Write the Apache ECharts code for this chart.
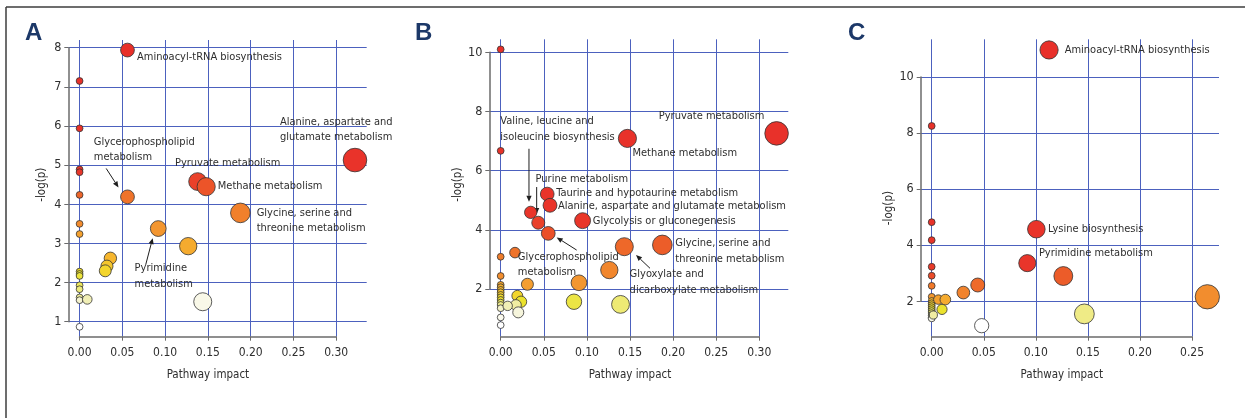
<!DOCTYPE html>
<html>
<head>
<meta charset="utf-8">
<title>Pathway impact</title>
<script src="https://cdn.jsdelivr.net/npm/echarts@6/dist/echarts.min.js"></script>
<style>
  html, body { margin: 0; padding: 0; background: #ffffff; }
  #chart { width: 1245px; height: 418px; }
</style>
</head>
<body>
<div id="chart"></div>
<script>
// ---------- Panel A ----------
const impactA = [0.056, 0.000, 0.000, 0.000, 0.000, 0.000, 0.056, 0.138, 0.148, 0.322,
                 0.188, 0.092, 0.127, 0.144, 0.036, 0.032, 0.030, 0.000, 0.000, 0.000,
                 0.000, 0.000, 0.000, 0.000, 0.000, 0.000, 0.009, 0.000];
const logpA   = [7.94, 7.15, 5.94, 4.89, 4.82, 4.24, 4.19, 4.58, 4.45, 5.13,
                 3.78, 3.38, 2.93, 1.51, 2.62, 2.42, 2.30, 3.50, 3.24, 2.28,
                 2.22, 2.17, 1.93, 1.83, 1.62, 1.55, 1.57, 0.87];
const labelsA = ['Aminoacyl-tRNA biosynthesis', '', '', '', '', '',
                 'Glycerophospholipid\nmetabolism', 'Pyruvate metabolism', 'Methane metabolism',
                 'Alanine, aspartate and\nglutamate metabolism', 'Glycine, serine and\nthreonine metabolism',
                 'Pyrimidine\nmetabolism', '', '', '', '', '', '', '', '', '', '', '', '', '', '', '', ''];
const xTicksA = [0.00, 0.05, 0.10, 0.15, 0.20, 0.25, 0.30];
const yTicksA = [1, 2, 3, 4, 5, 6, 7, 8];

// ---------- Panel B ----------
const impactB = [0.000, 0.000, 0.147, 0.320, 0.0436, 0.0348, 0.054, 0.0572, 0.095, 0.0552,
                 0.1434, 0.1875, 0.126, 0.0908, 0.031, 0.0166,
                 0.000, 0.000, 0.000, 0.000, 0.000, 0.000, 0.000, 0.000, 0.000, 0.000,
                 0.000, 0.000, 0.000, 0.000,
                 0.0193, 0.0236, 0.0177, 0.0081, 0.0204, 0.085, 0.139];
const logpB   = [10.10, 6.67, 7.09, 7.26, 4.24, 4.59, 5.21, 4.83, 4.31, 3.88,
                 3.43, 3.49, 2.64, 2.21, 2.16, 3.23,
                 3.09, 2.44, 2.14, 2.06, 1.97, 1.89, 1.80, 1.72, 1.63, 1.54,
                 1.46, 1.35, 1.04, 0.78,
                 1.77, 1.57, 1.46, 1.43, 1.21, 1.57, 1.48];
const labelsB = ['', '', 'Methane metabolism', 'Pyruvate metabolism', 'Purine metabolism',
                 'Valine, leucine and\nisoleucine biosynthesis', 'Taurine and hypotaurine metabolism',
                 'Alanine, aspartate and glutamate metabolism', 'Glycolysis or gluconegenesis',
                 'Glycerophospholipid\nmetabolism', 'Glyoxylate and\ndicarboxylate metabolism',
                 'Glycine, serine and\nthreonine metabolism',
                 '', '', '', '', '', '', '', '', '', '', '', '', '', '', '', '', '', '', '', '', '', '', '', '', ''];
const xTicksB = [0.00, 0.05, 0.10, 0.15, 0.20, 0.25, 0.30];
const yTicksB = [2, 4, 6, 8, 10];

// ---------- Panel C ----------
const impactC = [0.1127, 0.000, 0.000, 0.000, 0.1005, 0.0918, 0.1264, 0.2647, 0.1466, 0.048,
                 0.0442, 0.0304,
                 0.000, 0.000, 0.000, 0.000, 0.000, 0.000, 0.000, 0.000, 0.000, 0.000,
                 0.000, 0.000, 0.000, 0.000,
                 0.0064, 0.0131, 0.0099, 0.0016];
const logpC   = [10.96, 8.25, 4.82, 4.18, 4.57, 3.36, 2.90, 2.16, 1.55, 1.13,
                 2.58, 2.31,
                 3.23, 2.91, 2.55, 2.16, 2.01, 1.93, 1.86, 1.79, 1.72, 1.65,
                 1.58, 1.50, 1.42, 1.39,
                 2.06, 2.06, 1.71, 1.51];
const labelsC = ['Aminoacyl-tRNA biosynthesis', '', '', '', 'Lysine biosynthesis', 'Pyrimidine metabolism',
                 '', '', '', '', '', '', '', '', '', '', '', '', '', '', '', '', '', '', '', '', '', '', '', ''];
const xTicksC = [0.00, 0.05, 0.10, 0.15, 0.20, 0.25];
const yTicksC = [2, 4, 6, 8, 10];

// ---------- drawing ----------
const FONT = '"DejaVu Sans Condensed", "Liberation Sans Narrow", "Noto Sans", sans-serif';
const TEXT = '#2e2e2e';
const GRID_BLUE = '#4c61be';
const AXIS_GREY = '#6b6b6b';
const LABEL_SIZE = 11;
const LABEL_LH = 15.5;

// heat palette indexed by rank of -log(p): red for the strongest, white for the weakest
const heatStops = [
  [0.00, '#e8302a'], [0.20, '#e9362a'], [0.27, '#ec5a29'], [0.35, '#f07a2a'],
  [0.45, '#f39830'], [0.55, '#f6b42e'], [0.63, '#f3d52c'], [0.72, '#ebe22a'],
  [0.80, '#eeea70'], [0.88, '#f0eeb0'], [0.95, '#f7f6e0'], [1.00, '#ffffff']
];
function hexRgb(h) { return [1, 3, 5].map(i => parseInt(h.slice(i, i + 2), 16)); }
function heat(t) {
  for (let i = 1; i < heatStops.length; i++) {
    const [t1, c1] = heatStops[i];
    const [t0, c0] = heatStops[i - 1];
    if (t <= t1) {
      const f = (t - t0) / (t1 - t0);
      const a = hexRgb(c0), b = hexRgb(c1);
      return 'rgb(' + a.map((v, k) => Math.round(v + (b[k] - v) * f)).join(',') + ')';
    }
  }
  return heatStops[heatStops.length - 1][1];
}

// per-panel frame geometry and annotation placement
// (dx: text left edge, dy: centre of the first text line, both in px from the bubble centre)
const panels = [
  {
    letter: 'A', letterLeft: 25, impact: impactA, logp: logpA, labels: labelsA,
    xTicks: xTicksA, yTicks: yTicksA,
    plot: { left: 68.3, top: 40, width: 298.4, height: 296.7 },
    xRange: [-0.0132, 0.3357], yRange: [0.617, 8.197], xSplit: 7, ySplit: 7,
    sizeK: 14.8, yNameShift: 0,
    layout: {
      'Aminoacyl-tRNA biosynthesis': { dx: 10, dy: 7.3 },
      'Glycerophospholipid\nmetabolism': { dx: -33.3, dy: -54.4, arrow: [-21.3, -28.4, -9, -9.4] },
      'Pyruvate metabolism': { dx: -22.3, dy: -17.7 },
      'Methane metabolism': { dx: 12, dy: 0 },
      'Alanine, aspartate and\nglutamate metabolism': { dx: -74.6, dy: -37.7 },
      'Glycine, serine and\nthreonine metabolism': { dx: 16.7, dy: 0.6 },
      'Pyrimidine\nmetabolism': { dx: -23.3, dy: 40.3, arrow: [-12.6, 36.3, -5.6, 9.6] }
    }
  },
  {
    letter: 'B', letterLeft: 415, impact: impactB, logp: logpB, labels: labelsB,
    xTicks: xTicksB, yTicks: yTicksB,
    plot: { left: 489.3, top: 39.3, width: 299, height: 297.4 },
    xRange: [-0.0132, 0.3336], yRange: [0.388, 10.44], xSplit: 7, ySplit: 5,
    sizeK: 14.8, yNameShift: 14,
    layout: {
      'Methane metabolism': { dx: 5.4, dy: 15 },
      'Pyruvate metabolism': { dx: -117.4, dy: -17.3 },
      'Purine metabolism': { dx: -2.3, dy: -42.7, arrow: [-1.6, -35.7, -1.6, -8.7] },
      'Valine, leucine and\nisoleucine biosynthesis': { dx: -30, dy: -90.6, arrow: [-1.7, -63.6, -1.7, -10.6] },
      'Taurine and hypotaurine metabolism': { dx: 9.4, dy: -0.7 },
      'Alanine, aspartate and glutamate metabolism': { dx: 8.3, dy: 1 },
      'Glycolysis or gluconegenesis': { dx: 10.6, dy: 1.3 },
      'Glycerophospholipid\nmetabolism': { dx: -30, dy: 24, arrow: [28.4, 16.7, 8.4, 4] },
      'Glyoxylate and\ndicarboxylate metabolism': { dx: 5.7, dy: 28.3, arrow: [25.7, 21.6, 11.7, 8.3] },
      'Glycine, serine and\nthreonine metabolism': { dx: 13.4, dy: -1 }
    }
  },
  {
    letter: 'C', letterLeft: 848, impact: impactC, logp: logpC, labels: labelsC,
    xTicks: xTicksC, yTicks: yTicksC,
    plot: { left: 920.7, top: 39.3, width: 298.3, height: 297.4 },
    xRange: [-0.01056, 0.2759], yRange: [0.737, 11.34], xSplit: 6, ySplit: 5,
    sizeK: 17, yNameShift: 19,
    layout: {
      'Aminoacyl-tRNA biosynthesis': { dx: 16, dy: 0.7 },
      'Lysine biosynthesis': { dx: 12, dy: 0 },
      'Pyrimidine metabolism': { dx: 12, dy: -10 }
    }
  }
];

const grids = [], xAxes = [], yAxes = [], series = [], titles = [];

panels.forEach((p, i) => {
  const sx = p.plot.width / (p.xRange[1] - p.xRange[0]);
  const sy = p.plot.height / (p.yRange[1] - p.yRange[0]);
  const x0 = p.xTicks[0], x1 = p.xTicks[p.xTicks.length - 1];
  const y0 = p.yTicks[0], y1 = p.yTicks[p.yTicks.length - 1];

  // plotting area with the blue reference grid
  grids.push({ left: p.plot.left, top: p.plot.top, width: p.plot.width, height: p.plot.height });
  // bottom axis spanning only the tick range
  grids.push({ left: p.plot.left + (x0 - p.xRange[0]) * sx, top: p.plot.top,
               width: (x1 - x0) * sx, height: p.plot.height });
  // left axis spanning only the tick range
  grids.push({ left: p.plot.left, top: p.plot.top + (p.yRange[1] - y1) * sy,
               width: p.plot.width, height: (y1 - y0) * sy });

  const g = 3 * i;
  const hiddenLine = { show: false };
  const gridLine = { show: true, showMinLine: false, showMaxLine: false,
                     lineStyle: { color: GRID_BLUE, width: 1 } };

  xAxes.push({ type: 'value', gridIndex: g, min: p.xRange[0], max: p.xRange[1], splitNumber: p.xSplit,
               axisLine: hiddenLine, axisTick: hiddenLine, axisLabel: hiddenLine, splitLine: gridLine, z: 0 });
  yAxes.push({ type: 'value', gridIndex: g, min: p.yRange[0], max: p.yRange[1], splitNumber: p.ySplit,
               axisLine: hiddenLine, axisTick: hiddenLine, axisLabel: hiddenLine, splitLine: gridLine, z: 0 });

  xAxes.push({ type: 'value', gridIndex: g + 1, min: x0, max: x1, interval: p.xTicks[1] - p.xTicks[0],
               axisLine: { show: true, onZero: false, lineStyle: { color: AXIS_GREY, width: 1.5 } },
               axisTick: { show: true, length: 4, lineStyle: { color: AXIS_GREY, width: 1 } },
               axisLabel: { margin: 10, fontFamily: FONT, fontSize: 12, color: TEXT,
                            formatter: v => v.toFixed(2) },
               splitLine: { show: false },
               name: 'Pathway impact', nameLocation: 'middle', nameGap: 32,
               nameTextStyle: { fontFamily: FONT, fontSize: 11.5, color: TEXT }, z: 1 });
  yAxes.push({ type: 'value', gridIndex: g + 1, show: false, min: 0, max: 1 });

  xAxes.push({ type: 'value', gridIndex: g + 2, show: false, min: 0, max: 1 });
  yAxes.push({ type: 'value', gridIndex: g + 2, min: y0, max: y1, interval: p.yTicks[1] - p.yTicks[0],
               axisLine: { show: true, onZero: false, lineStyle: { color: AXIS_GREY, width: 1.5 } },
               axisTick: { show: true, length: 4, lineStyle: { color: AXIS_GREY, width: 1 } },
               axisLabel: { margin: 7, fontFamily: FONT, fontSize: 12.5, color: TEXT },
               splitLine: { show: false },
               name: '-log(p)', nameLocation: 'middle', nameRotate: 90, nameGap: 20,
               nameTextStyle: { fontFamily: FONT, fontSize: 11.5, color: TEXT,
                                padding: [0, 2 * p.yNameShift, 0, 0] }, z: 1 });

  // colour by rank of -log(p)
  const order = p.logp.map((v, k) => k).sort((a, b) => p.logp[b] - p.logp[a]);
  const rank = new Array(p.logp.length);
  order.forEach((k, r) => { rank[k] = r; });
  const n = p.logp.length;
  const radius = x => 3.4 + p.sizeK * Math.sqrt(Math.max(x, 0));

  const data = p.impact.map((x, k) => {
    const item = {
      value: [x, p.logp[k]],
      itemStyle: { color: heat(rank[k] / (n - 1)) }
    };
    const text = p.labels[k];
    if (text) {
      const lay = p.layout[text];
      const r = radius(x);
      item.name = text;
      item.label = {
        show: true, formatter: text,
        position: [r + lay.dx, r + lay.dy - LABEL_LH / 2], align: 'left', verticalAlign: 'top',
        fontFamily: FONT, fontSize: LABEL_SIZE, lineHeight: LABEL_LH, color: TEXT
      };
    }
    return item;
  });

  series.push({
    type: 'scatter', xAxisIndex: g, yAxisIndex: g, clip: false, z: 3,
    symbol: 'circle',
    symbolSize: v => 2 * radius(v[0]),
    itemStyle: { borderColor: '#333333', borderWidth: 0.8, opacity: 1 },
    label: { show: false },
    emphasis: { disabled: true },
    data: data
  });

  titles.push({ text: p.letter, left: p.letterLeft, top: 21, padding: 0,
                textStyle: { fontFamily: '"Liberation Sans", Arial, sans-serif', fontSize: 24,
                             fontWeight: 'bold', color: '#1c3868' } });
});

const chart = echarts.init(document.getElementById('chart'), null, { renderer: 'canvas' });
chart.setOption({
  animation: false,
  backgroundColor: '#ffffff',
  title: titles,
  grid: grids,
  xAxis: xAxes,
  yAxis: yAxes,
  series: series
});

// figure frame and annotation arrows, the arrows anchored to their bubbles
const graphics = [
  { type: 'line', shape: { x1: 6, y1: 7, x2: 1245, y2: 7 }, style: { stroke: '#3c3c3c', lineWidth: 1.5 }, silent: true },
  { type: 'line', shape: { x1: 6, y1: 7, x2: 6, y2: 418 }, style: { stroke: '#3c3c3c', lineWidth: 1.5 }, silent: true }
];
panels.forEach((p, i) => {
  p.labels.forEach((text, k) => {
    if (!text || !p.layout[text].arrow) return;
    const c = chart.convertToPixel({ seriesIndex: i }, [p.impact[k], p.logp[k]]);
    const [ax, ay, bx, by] = p.layout[text].arrow;
    const x1 = c[0] + ax, y1 = c[1] + ay, x2 = c[0] + bx, y2 = c[1] + by;
    const ang = Math.atan2(y2 - y1, x2 - x1);
    const L = 6, W = 2.6;
    const bxp = x2 - L * Math.cos(ang), byp = y2 - L * Math.sin(ang);
    graphics.push({ type: 'line', silent: true,
      shape: { x1: x1, y1: y1, x2: bxp, y2: byp }, style: { stroke: '#1e1e1e', lineWidth: 1 } });
    graphics.push({ type: 'polygon', silent: true,
      shape: { points: [[x2, y2],
                        [bxp + W * Math.sin(ang), byp - W * Math.cos(ang)],
                        [bxp - W * Math.sin(ang), byp + W * Math.cos(ang)]] },
      style: { fill: '#1e1e1e' } });
  });
});
chart.setOption({ graphic: graphics });
</script>
</body>
</html>
